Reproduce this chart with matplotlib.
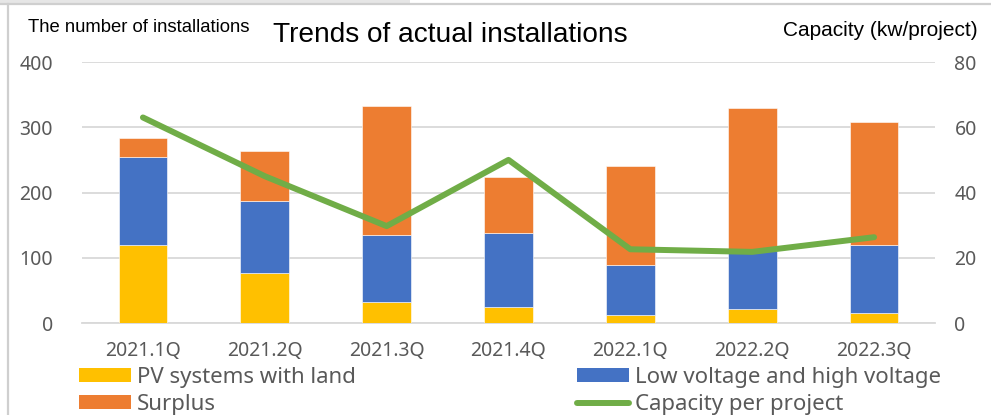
import matplotlib
matplotlib.use("Agg")
import matplotlib.pyplot as plt
from matplotlib.patches import Patch, Rectangle
from matplotlib.lines import Line2D
import numpy as np

quarters = ["2021.1Q", "2021.2Q", "2021.3Q", "2021.4Q", "2022.1Q", "2022.2Q", "2022.3Q"]
pv_with_land = [119, 77, 32, 25, 13, 22, 16]
low_high_voltage = [136, 110, 103, 113, 76, 88, 104]
surplus = [28, 77, 197, 86, 152, 220, 188]
capacity_per_project = [63.0, 45.0, 29.7, 50.0, 22.6, 21.8, 26.3]

C_YEL = "#FFC000"
C_BLUE = "#4472C4"
C_ORG = "#ED7D31"
C_GRN = "#70AD47"
GRID = "#D9D9D9"
TXT = "#595959"
FONT = ["Noto Sans", "DejaVu Sans"]
ARIAL = ["Liberation Sans", "DejaVu Sans"]

W, H = 991, 415
fig = plt.figure(figsize=(W / 100, H / 100), dpi=100)
fig.patch.set_facecolor("white")

# frame decorations
fig.patches.append(Rectangle((0, 1 - 4 / H), 410 / W, 4 / H, transform=fig.transFigure,
                             facecolor="#E6E6E6", edgecolor="none", zorder=0))
fig.add_artist(Line2D([0, 1], [1 - 4.5 / H, 1 - 4.5 / H], transform=fig.transFigure,
                      color="#CFCFCF", lw=1.6))
fig.add_artist(Line2D([8 / W, 8 / W], [0, 1 - 4.5 / H], transform=fig.transFigure,
                      color="#CFCFCF", lw=1.6))

left, right, top, bottom = 82, 935, 62, 323
ax = fig.add_axes([left / W, 1 - bottom / H, (right - left) / W, (bottom - top) / H])
x = np.arange(len(quarters))
bw = 0.40
b1 = np.array(pv_with_land)
b2 = np.array(low_high_voltage)
b3 = np.array(surplus)
ax.bar(x, b1, bw, color=C_YEL, edgecolor="white", linewidth=0.4, zorder=3)
ax.bar(x, b2, bw, bottom=b1, color=C_BLUE, edgecolor="white", linewidth=0.4, zorder=3)
ax.bar(x, b3, bw, bottom=b1 + b2, color=C_ORG, edgecolor="white", linewidth=0.4, zorder=3)

ax.set_xlim(-0.5, len(quarters) - 0.5)
ax.set_ylim(0, 400)
ax.set_yticks([0, 100, 200, 300, 400])
ax.yaxis.grid(True, color=GRID, lw=1.3, zorder=0)
ax.set_axisbelow(True)
for s in ["top", "right", "left"]:
    ax.spines[s].set_visible(False)
ax.spines["bottom"].set_color(GRID)
ax.spines["bottom"].set_linewidth(1.3)
ax.set_xticks(x)
ax.set_xticklabels(quarters)
ax.tick_params(axis="x", length=0, pad=13, labelsize=14, labelcolor=TXT)
ax.tick_params(axis="y", length=0, pad=21, labelsize=14, labelcolor=TXT)
for lab in ax.get_xticklabels() + ax.get_yticklabels():
    lab.set_family(FONT)

ax2 = ax.twinx()
ax2.plot(x, capacity_per_project, color=C_GRN, lw=4.3, solid_capstyle="round",
         solid_joinstyle="round", zorder=5)
ax2.set_ylim(0, 80)
ax2.set_yticks([0, 20, 40, 60, 80])
for s in ["top", "right", "left", "bottom"]:
    ax2.spines[s].set_visible(False)
ax2.tick_params(axis="y", length=0, pad=14, labelsize=14, labelcolor=TXT)
for lab in ax2.get_yticklabels():
    lab.set_family(FONT)

# texts
fig.text(28 / W, 1 - 27 / H, "The number of installations", family=ARIAL, fontsize=13.3,
         color="black", ha="left", va="center")
fig.text(978 / W, 1 - 31 / H, "Capacity (kw/project)", family=ARIAL, fontsize=15,
         color="black", ha="right", va="center")
fig.text(273 / W, 1 - 35 / H, "Trends of actual installations", family=ARIAL, fontsize=20.2,
         color="black", ha="left", va="center")

# legends
leg_kw = dict(frameon=False, prop={"family": FONT, "size": 16}, labelcolor=TXT,
              handlelength=2.35, handleheight=0.6, handletextpad=0.27,
              labelspacing=0.28, borderpad=0, borderaxespad=0, loc="upper left")
h1 = [Patch(facecolor=C_YEL), Patch(facecolor=C_ORG)]
fig.legend(h1, ["PV systems with land", "Surplus"],
           bbox_to_anchor=(79 / W, 1 - 367 / H), **leg_kw)
h2 = [Patch(facecolor=C_BLUE), Line2D([0], [0], color=C_GRN, lw=4.3, solid_capstyle="round")]
fig.legend(h2, ["Low voltage and high voltage", "Capacity per project"],
           bbox_to_anchor=(577 / W, 1 - 367 / H), **leg_kw)

fig.savefig("out.png", dpi=100, facecolor="white")
